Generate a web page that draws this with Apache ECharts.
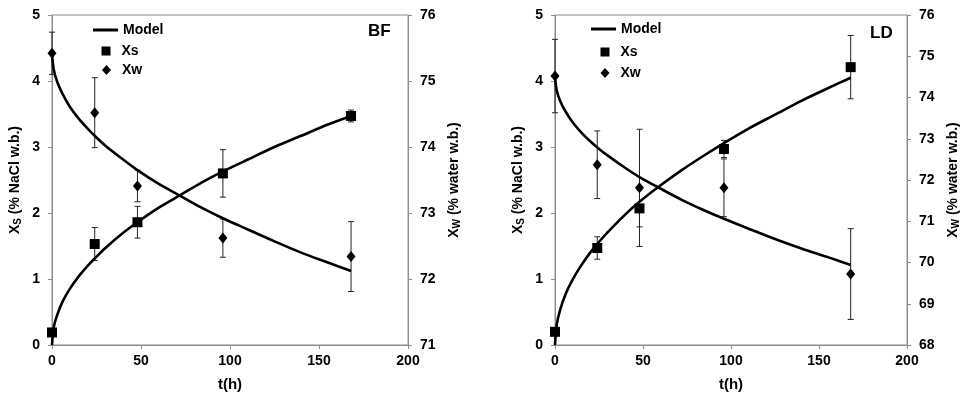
<!DOCTYPE html>
<html>
<head>
<meta charset="utf-8">
<script src="https://cdn.jsdelivr.net/npm/echarts@6/dist/echarts.min.js"></script>
<style>
  html, body { margin: 0; padding: 0; background: #fff; }
  #chart { width: 971px; height: 397px; }
</style>
</head>
<body>
<div id="chart"></div>
<script>
// Sampling times (h)
const timesH = [0, 24, 48, 96, 168];
const modelT = [0, 1, 3, 6, 10, 15, 20, 24, 30, 40, 48, 60, 72, 84, 96, 110, 125, 140, 155, 168];

// BF: salt (% NaCl w.b.) and water (% water w.b.) contents with standard deviations
const bfXs = [0.19, 1.53, 1.86, 2.60, 3.47];
const bfXsSd = [0, 0.25, 0.24, 0.36, 0.09];
const bfXw = [75.42, 74.52, 73.41, 72.62, 72.34];
const bfXwSd = [0.32, 0.53, 0.24, 0.29, 0.53];
const bfModelXs = [0, 0.27, 0.46, 0.66, 0.85, 1.04, 1.20, 1.31, 1.47, 1.70, 1.86, 2.08, 2.27, 2.46, 2.63, 2.81, 3.00, 3.17, 3.34, 3.47];
const bfModelXw = [75.42, 75.17, 74.98, 74.80, 74.61, 74.43, 74.28, 74.17, 74.02, 73.81, 73.65, 73.44, 73.26, 73.08, 72.92, 72.75, 72.57, 72.40, 72.25, 72.12];

// LD
const ldXs = [0.20, 1.47, 2.07, 2.97, 4.21];
const ldXsSd = [0, 0.17, 0.28, 0.13, 0.48];
const ldXw = [74.52, 72.37, 71.81, 71.81, 69.72];
const ldXwSd = [0.89, 0.82, 1.42, 0.70, 1.10];
const ldModelXs = [0, 0.31, 0.54, 0.77, 0.99, 1.21, 1.40, 1.53, 1.71, 1.98, 2.17, 2.42, 2.65, 2.86, 3.06, 3.28, 3.49, 3.70, 3.89, 4.05];
const ldModelXw = [74.52, 74.17, 73.91, 73.66, 73.40, 73.15, 72.94, 72.79, 72.59, 72.29, 72.07, 71.79, 71.52, 71.28, 71.06, 70.82, 70.57, 70.34, 70.13, 69.94];

// Axis ranges
const xTicks = { min: 0, max: 200, interval: 50 };
const xsRange = { min: 0, max: 5, interval: 1 };
const bfXwRange = { min: 71, max: 76, interval: 1 };
const ldXwRange = { min: 68, max: 76, interval: 1 };
const panelNames = ['BF', 'LD'];

const FONT = '"Liberation Sans", Arial, sans-serif';
const AXIS_GREY = '#8c8c8c';
const labelStyle = { fontFamily: FONT, fontWeight: 'bold', fontSize: 14, color: '#000' };

const pairs = (xs, ys) => xs.map((x, i) => [x, ys[i]]);
const bars = (xs, ys, sd) => xs.map((x, i) => [x, ys[i] - sd[i], ys[i] + sd[i]]).filter((d, i) => sd[i] > 0);

function errorRender(params, api) {
  const x = api.value(0);
  const lo = api.coord([x, api.value(1)]);
  const hi = api.coord([x, api.value(2)]);
  const half = 3;
  const style = { stroke: '#222', lineWidth: 1 };
  return {
    type: 'group',
    children: [
      { type: 'line', shape: { x1: lo[0], y1: lo[1], x2: hi[0], y2: hi[1] }, style },
      { type: 'line', shape: { x1: lo[0] - half, y1: lo[1], x2: lo[0] + half, y2: lo[1] }, style },
      { type: 'line', shape: { x1: hi[0] - half, y1: hi[1], x2: hi[0] + half, y2: hi[1] }, style }
    ]
  };
}

const grids = [
  { left: 52, top: 15, width: 356, height: 338 },
  { left: 555, top: 15, width: 352, height: 338 }
].map(g => Object.assign({ show: true, borderColor: AXIS_GREY, borderWidth: 1, containLabel: false }, g));

function xAxisFor(gi) {
  return Object.assign({
    type: 'value', gridIndex: gi,
    name: 't(h)', nameLocation: 'middle', nameGap: 32,
    nameTextStyle: Object.assign({}, labelStyle, { fontSize: 15 }),
    axisLine: { show: true, lineStyle: { color: AXIS_GREY } },
    axisTick: { show: true, length: 4, lineStyle: { color: AXIS_GREY } },
    axisLabel: Object.assign({ margin: 9 }, labelStyle),
    splitLine: { show: false }
  }, xTicks);
}

const titleRich = {
  a: { fontFamily: FONT, fontWeight: 'bold', fontSize: 14, color: '#000' },
  s: { fontFamily: FONT, fontWeight: 'bold', fontSize: 10, color: '#000', padding: [6, 0, 0, 0] }
};

function leftAxisFor(gi) {
  return Object.assign({
    type: 'value', gridIndex: gi, position: 'left',
    name: '{a|X}{s|S}{a| (% NaCl w.b.)}', nameLocation: 'middle', nameGap: 29, nameRotate: 90,
    nameTextStyle: { rich: titleRich },
    axisLine: { show: true, lineStyle: { color: AXIS_GREY } },
    axisTick: { show: true, length: 4, lineStyle: { color: AXIS_GREY } },
    axisLabel: Object.assign({ margin: 12 }, labelStyle),
    splitLine: { show: false }
  }, xsRange);
}

function rightAxisFor(gi, range) {
  return Object.assign({
    type: 'value', gridIndex: gi, position: 'right',
    name: '{a|X}{s|W}{a| (% water w.b.)}', nameLocation: 'middle', nameGap: 38, nameRotate: 90,
    nameTextStyle: { rich: titleRich },
    axisLine: { show: true, lineStyle: { color: AXIS_GREY } },
    axisTick: { show: true, length: 4, lineStyle: { color: AXIS_GREY } },
    axisLabel: Object.assign({ margin: 12 }, labelStyle),
    splitLine: { show: false }
  }, range);
}

function panelSeries(xi, yl, yr, xs, xsSd, xw, xwSd, mXs, mXw) {
  const model = (data, yi) => ({
    type: 'line', name: 'Model', xAxisIndex: xi, yAxisIndex: yi,
    data: pairs(modelT, data), smooth: 0.3, symbol: 'none',
    lineStyle: { color: '#000', width: 2.6 }, itemStyle: { color: '#000' }, z: 3, silent: true
  });
  const err = (data, yi) => ({
    type: 'custom', xAxisIndex: xi, yAxisIndex: yi, data, renderItem: errorRender, z: 2, silent: true
  });
  return [
    err(bars(timesH, xs, xsSd), yl),
    err(bars(timesH, xw, xwSd), yr),
    model(mXs, yl),
    model(mXw, yr),
    { type: 'scatter', name: 'Xs', xAxisIndex: xi, yAxisIndex: yl, data: pairs(timesH, xs),
      symbol: 'rect', symbolSize: 10, itemStyle: { color: '#000', opacity: 1 }, z: 4 },
    { type: 'scatter', name: 'Xw', xAxisIndex: xi, yAxisIndex: yr, data: pairs(timesH, xw),
      symbol: 'diamond', symbolSize: [9, 11], itemStyle: { color: '#000', opacity: 1 }, z: 4 }
  ];
}

function legendItem(name, icon, left, top, w, h, padLeft) {
  return {
    data: [{ name, icon }], left, top, itemWidth: w, itemHeight: h, padding: 0,
    selectedMode: false, itemStyle: { color: '#000' },
    textStyle: Object.assign({}, labelStyle, { padding: [0, 0, 0, padLeft] })
  };
}

const option = {
  backgroundColor: '#fff',
  animation: false,
  title: [
    { text: panelNames[0], left: 368, top: 23, padding: 0, textStyle: { fontFamily: FONT, fontWeight: 'bold', fontSize: 17, color: '#000' } },
    { text: panelNames[1], left: 870, top: 25, padding: 0, textStyle: { fontFamily: FONT, fontWeight: 'bold', fontSize: 17, color: '#000' } }
  ],
  legend: [
    legendItem('Model', 'rect', 93, 23, 25, 3, 0),
    legendItem('Xs', 'rect', 101.5, 44, 9, 9, 6),
    legendItem('Xw', 'diamond', 102, 63, 9, 10, 6),
    legendItem('Model', 'rect', 591, 22, 25, 3, 0),
    legendItem('Xs', 'rect', 600.5, 45, 9, 9, 6),
    legendItem('Xw', 'diamond', 600.5, 66, 9, 10, 6)
  ],
  grid: grids,
  xAxis: [xAxisFor(0), xAxisFor(1)],
  yAxis: [leftAxisFor(0), rightAxisFor(0, bfXwRange), leftAxisFor(1), rightAxisFor(1, ldXwRange)],
  series: [].concat(
    panelSeries(0, 0, 1, bfXs, bfXsSd, bfXw, bfXwSd, bfModelXs, bfModelXw),
    panelSeries(1, 2, 3, ldXs, ldXsSd, ldXw, ldXwSd, ldModelXs, ldModelXw)
  )
};

const chart = echarts.init(document.getElementById('chart'), null, { renderer: 'canvas' });
chart.setOption(option);
</script>
</body>
</html>
